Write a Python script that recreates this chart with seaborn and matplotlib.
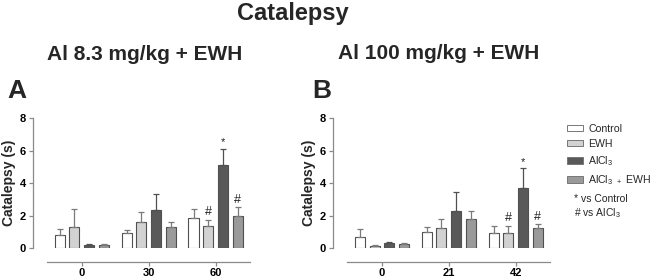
import numpy as np
import pandas as pd
import seaborn as sns
import matplotlib.pyplot as plt
from matplotlib.patches import Patch

groups = ['Control', 'EWH', 'AlCl3', 'AlCl3 + EWH']
group_labels = ['Control', 'EWH', 'AlCl$_3$', 'AlCl$_3$ $_+$ EWH']
colors = ['#ffffff', '#d2d2d2', '#595959', '#9a9a9a']

days_a = ['0', '30', '60']
mean_a = {'Control': [0.8, 0.9, 1.85],
          'EWH': [1.3, 1.6, 1.35],
          'AlCl3': [0.17, 2.35, 5.1],
          'AlCl3 + EWH': [0.17, 1.3, 1.95]}
sem_a = {'Control': [0.4, 0.2, 0.55],
         'EWH': [1.1, 0.6, 0.4],
         'AlCl3': [0.05, 1.0, 1.0],
         'AlCl3 + EWH': [0.08, 0.3, 0.55]}
# significance marks: (day, group, symbol)
marks_a = [('60', 'EWH', '#'), ('60', 'AlCl3', '*'), ('60', 'AlCl3 + EWH', '#')]

days_b = ['0', '21', '42']
mean_b = {'Control': [0.7, 1.0, 0.95],
          'EWH': [0.15, 1.25, 0.95],
          'AlCl3': [0.3, 2.3, 3.7],
          'AlCl3 + EWH': [0.25, 1.8, 1.25]}
sem_b = {'Control': [0.45, 0.3, 0.4],
         'EWH': [0.03, 0.55, 0.4],
         'AlCl3': [0.1, 1.15, 1.2],
         'AlCl3 + EWH': [0.05, 0.5, 0.2]}
marks_b = [('42', 'EWH', '#'), ('42', 'AlCl3', '*'), ('42', 'AlCl3 + EWH', '#')]

sns.set_style('ticks')
plt.rcParams['font.family'] = ['Liberation Sans', 'DejaVu Sans']
plt.rcParams['mathtext.default'] = 'regular'

edge = '#505050'
axcol = '#8a8a8a'


def to_df(days, means, sems):
    rows = []
    for g in groups:
        for d, m, s in zip(days, means[g], sems[g]):
            rows.append({'day': d, 'group': g, 'mean': m, 'sem': s})
    return pd.DataFrame(rows)


def panel(ax, days, means, sems, marks):
    df = to_df(days, means, sems)
    sns.barplot(data=df, x='day', y='mean', hue='group', order=days,
                hue_order=groups, palette=colors, edgecolor=edge,
                linewidth=0.8, width=0.88, gap=0.32, errorbar=None,
                legend=False, ax=ax)
    for g, cont in zip(groups, ax.containers):
        sub = df[df.group == g].set_index('day').loc[days]
        xs = [b.get_x() + b.get_width() / 2 for b in cont]
        hs = [b.get_height() for b in cont]
        ecol = '#505050' if g == 'AlCl3' else '#7a7a7a'
        ax.errorbar(xs, hs, yerr=[np.zeros(len(xs)), sub['sem'].values],
                    fmt='none', ecolor=ecol, elinewidth=0.9, capsize=2.5,
                    capthick=0.9, zorder=1)
        for d, gg, sym in marks:
            if gg == g:
                i = days.index(d)
                ax.text(xs[i], hs[i] + sub['sem'].values[i] + 0.1, sym,
                        ha='center', va='bottom', fontsize=9 if sym == '#' else 8,
                        color='#222222')
    ax.set_ylim(0, 8)
    ax.set_xlim(-0.73, 2.6)
    ax.set_yticks([0, 2, 4, 6, 8])
    ax.set_xlabel('')
    ax.set_ylabel('Catalepsy (s)', fontsize=10, fontweight='bold', labelpad=3)
    sns.despine(ax=ax)
    ax.spines['bottom'].set_position(('outward', 10))
    ax.spines['bottom'].set_bounds(-0.52, 2.52)
    ax.spines['left'].set_bounds(0, 8)
    for sp in ['left', 'bottom']:
        ax.spines[sp].set_color(axcol)
        ax.spines[sp].set_linewidth(0.9)
    ax.tick_params(axis='both', colors=axcol, length=3, width=0.9)
    ax.tick_params(axis='y', labelsize=8, labelcolor='black', pad=2)
    ax.tick_params(axis='x', labelsize=8, labelcolor='black', pad=1.5)
    for lab in ax.get_xticklabels() + ax.get_yticklabels():
        lab.set_fontweight('bold')


fig = plt.figure(figsize=(6.57, 2.79), dpi=100)
ax_a = fig.add_axes([0.0502, 0.111, 0.339, 0.466])
ax_b = fig.add_axes([0.507, 0.111, 0.339, 0.466])
panel(ax_a, days_a, mean_a, sem_a, marks_a)
panel(ax_b, days_b, mean_b, sem_b, marks_b)

fig.text(0.446, 0.95, 'Catalepsy', ha='center', va='center',
         fontsize=17, fontweight='bold')
fig.text(0.22, 0.806, 'Al 8.3 mg/kg + EWH', ha='center', va='center',
         fontsize=15, fontweight='bold')
fig.text(0.667, 0.81, 'Al 100 mg/kg + EWH', ha='center', va='center',
         fontsize=15, fontweight='bold')
fig.text(0.011, 0.674, 'A', ha='left', va='center', fontsize=19, fontweight='bold')
fig.text(0.476, 0.674, 'B', ha='left', va='center', fontsize=19, fontweight='bold')

handles = [Patch(facecolor=c, edgecolor='#777777', linewidth=0.7) for c in colors]
leg = fig.legend(handles, group_labels, loc='upper left',
                 bbox_to_anchor=(0.857, 0.572), frameon=False, fontsize=7.6,
                 handlelength=1.5, handleheight=0.55, handletextpad=0.5,
                 labelspacing=0.5, borderaxespad=0)
fig.text(0.874, 0.305, '* vs Control\n# vs AlCl$_3$', ha='left', va='top',
         fontsize=7.5, linespacing=1.2)

fig.savefig('out.png', dpi=100)
